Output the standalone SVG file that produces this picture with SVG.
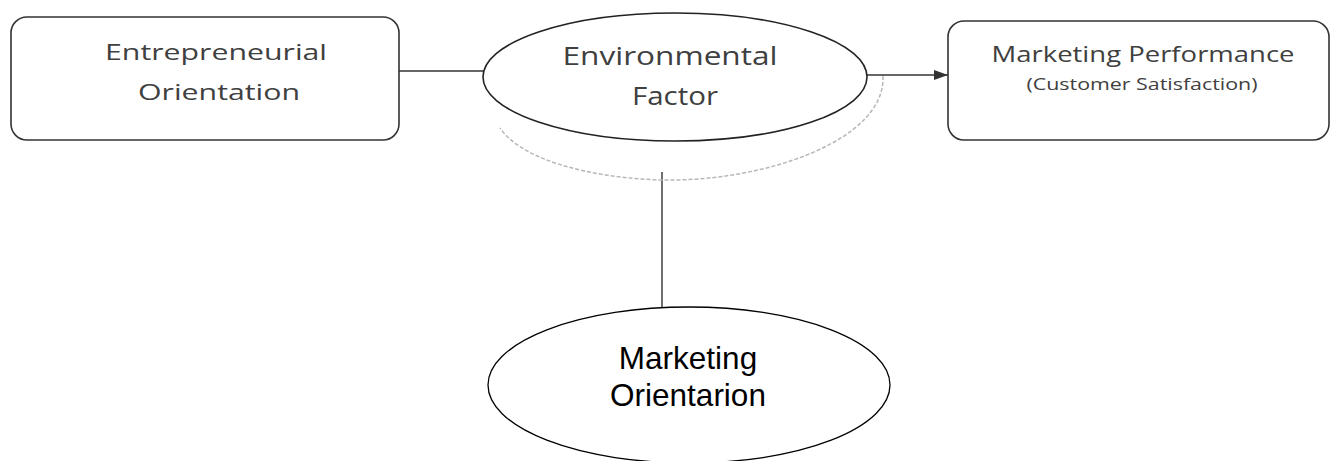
<svg xmlns="http://www.w3.org/2000/svg" width="1331" height="461" viewBox="0 0 1331 461">
  <style>
    .box { fill: #ffffff; stroke: #333333; stroke-width: 1.6; }
    .scan { font-family: "Open Sans", "DejaVu Sans", sans-serif; fill: #404040; }
    .conn { stroke: #333333; stroke-width: 1.4; fill: none; }
    .oval { fill: #ffffff; stroke: #222222; stroke-width: 1.6; }
  </style>
  <defs>
    <marker id="arrow" viewBox="0 0 14 10" refX="14" refY="5" markerWidth="14" markerHeight="10" markerUnits="userSpaceOnUse" orient="auto">
      <path d="M0,0 L14,5 L0,10 z" fill="#333333"/>
    </marker>
  </defs>
  <rect width="1331" height="461" fill="#ffffff"/>

  <g id="connectors">
    <line class="conn" x1="399" y1="71" x2="484" y2="71"/>
    <line class="conn" x1="867" y1="75" x2="948" y2="75" marker-end="url(#arrow)"/>
    <line class="conn" x1="662" y1="172" x2="662" y2="307" stroke="#555555"/>
  </g>

  <g id="entrepreneurial-orientation">
    <rect class="box" x="11" y="17" width="388" height="123" rx="16" ry="16"/>
    <text class="scan" x="216" y="60" font-size="21" text-anchor="middle" textLength="222" lengthAdjust="spacingAndGlyphs">Entrepreneurial</text>
    <text class="scan" x="219" y="100" font-size="21" text-anchor="middle" textLength="162" lengthAdjust="spacingAndGlyphs">Orientation</text>
  </g>

  <g id="environmental-factor">
    <path d="M 883 76 C 886 140, 765 182, 662 180 C 590 178, 522 160, 500 128" fill="none" stroke="#b8b8b8" stroke-width="1.5" stroke-dasharray="4 2"/>
    <ellipse class="oval" cx="675" cy="77" rx="192" ry="64"/>
    <text class="scan" x="670" y="65" font-size="26" text-anchor="middle" textLength="215" lengthAdjust="spacingAndGlyphs" fill="#484848">Environmental</text>
    <text class="scan" x="675" y="105" font-size="26" text-anchor="middle" textLength="86" lengthAdjust="spacingAndGlyphs" fill="#484848">Factor</text>
  </g>

  <g id="marketing-performance">
    <rect class="box" x="948" y="21" width="381" height="119" rx="16" ry="16"/>
    <text class="scan" x="1143" y="62" font-size="21" text-anchor="middle" textLength="303" lengthAdjust="spacingAndGlyphs">Marketing  Performance</text>
    <text class="scan" x="1142" y="90" font-size="16" text-anchor="middle" textLength="231" lengthAdjust="spacingAndGlyphs">(Customer Satisfaction)</text>
  </g>

  <g id="marketing-orientation">
    <ellipse cx="689" cy="385" rx="201" ry="78" fill="#ffffff" stroke="#000000" stroke-width="1.3"/>
    <text x="688" y="369" font-family="Liberation Sans, Arial, sans-serif" font-size="31.5" text-anchor="middle" fill="#000000">Marketing</text>
    <text x="688" y="406" font-family="Liberation Sans, Arial, sans-serif" font-size="31.5" text-anchor="middle" fill="#000000">Orientarion</text>
  </g>
</svg>
